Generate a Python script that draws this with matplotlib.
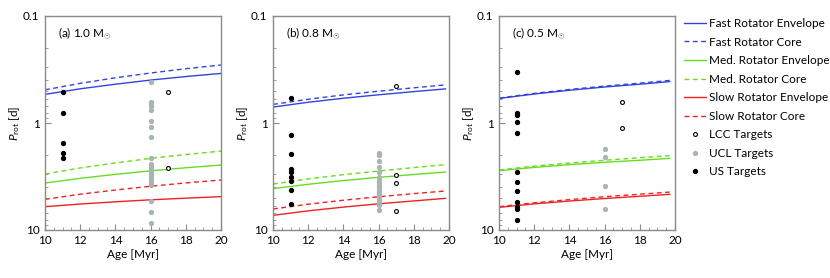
import matplotlib
matplotlib.use("Agg")
import matplotlib.pyplot as plt
from matplotlib.ticker import FixedLocator, NullFormatter, MultipleLocator
from matplotlib.lines import Line2D

plt.rcParams['font.family'] = ['Lato', 'DejaVu Sans']
plt.rcParams['mathtext.fontset'] = 'custom'
plt.rcParams['mathtext.rm'] = 'Lato'
plt.rcParams['mathtext.it'] = 'Lato:italic'

# ---------------- data ----------------
panel_labels = ["(a) 1.0 M$_{\\odot}$", "(b) 0.8 M$_{\\odot}$", "(c) 0.5 M$_{\\odot}$"]

# model curves: ages and periods [d]
ages_a = [10, 12, 14, 16, 18, 20]
ages_b = [10, 12, 14, 16, 18, 19.8]
ages_c = [10, 12, 14, 16, 18, 19.7]

fast_env_a = [0.54, 0.479, 0.434, 0.397, 0.368, 0.344]
fast_core_a = [0.49, 0.426, 0.378, 0.341, 0.311, 0.287]
med_env_a = [3.64, 3.29, 3.02, 2.80, 2.62, 2.47]
med_core_a = [3.00, 2.63, 2.36, 2.14, 1.97, 1.83]
slow_env_a = [6.05, 5.72, 5.45, 5.22, 5.04, 4.88]
slow_core_a = [5.17, 4.63, 4.23, 3.90, 3.63, 3.41]

fast_env_b = [0.71, 0.640, 0.587, 0.545, 0.509, 0.48]
fast_core_b = [0.67, 0.600, 0.546, 0.504, 0.469, 0.44]
med_env_b = [4.11, 3.74, 3.45, 3.22, 3.03, 2.87]
med_core_b = [3.72, 3.33, 3.04, 2.81, 2.61, 2.45]
slow_env_b = [7.3, 6.62, 6.11, 5.69, 5.35, 5.06]
slow_core_b = [6.36, 5.74, 5.27, 4.89, 4.57, 4.32]

fast_env_c = [0.59, 0.536, 0.494, 0.461, 0.434, 0.41]
fast_core_c = [0.585, 0.529, 0.486, 0.452, 0.424, 0.40]
med_env_c = [2.79, 2.60, 2.45, 2.33, 2.23, 2.14]
med_core_c = [2.75, 2.53, 2.37, 2.23, 2.11, 2.02]
slow_env_c = [6.14, 5.70, 5.36, 5.08, 4.84, 4.64]
slow_core_c = [6.05, 5.57, 5.20, 4.89, 4.63, 4.42]

# targets
us_age, ucl_age, lcc_age = 11, 16, 17

us_a = [0.51, 0.81, 1.55, 1.89, 2.12]
ucl_a = [0.41, 0.64, 0.67, 0.70, 0.76, 0.96, 1.08, 1.36, 2.14, 2.43, 2.56, 2.71,
         2.85, 3.0, 3.15, 3.31, 3.46, 3.61, 3.8, 5.36, 6.74, 8.6]
lcc_a = [0.51, 2.61]

us_b = [0.58, 1.29, 1.96, 2.69, 2.85, 3.20, 3.48, 4.26, 5.75]
ucl_b = [1.92, 2.0, 2.25, 2.58, 2.85, 3.17, 3.41, 3.64, 3.86, 4.08, 4.32, 4.58,
         4.84, 5.13, 5.44, 5.84, 6.55]
lcc_b = [0.45, 3.06, 3.66, 6.6]

us_c = [0.331, 0.81, 0.85, 0.98, 1.25, 2.87, 3.56, 4.35, 5.43, 6.05, 6.36, 8.07]
ucl_c = [1.75, 2.09, 3.88, 6.36]
lcc_c = [0.63, 1.11]

panels = [
    (ages_a, [fast_env_a, fast_core_a, med_env_a, med_core_a, slow_env_a, slow_core_a], us_a, ucl_a, lcc_a),
    (ages_b, [fast_env_b, fast_core_b, med_env_b, med_core_b, slow_env_b, slow_core_b], us_b, ucl_b, lcc_b),
    (ages_c, [fast_env_c, fast_core_c, med_env_c, med_core_c, slow_env_c, slow_core_c], us_c, ucl_c, lcc_c),
]

curve_names = ["Fast Rotator Envelope", "Fast Rotator Core", "Med. Rotator Envelope",
               "Med. Rotator Core", "Slow Rotator Envelope", "Slow Rotator Core"]
blue, green, red = "#3344dd", "#66dd22", "#ee2222"
curve_colors = [blue, blue, green, green, red, red]
curve_styles = ["-", (0, (3.5, 2.5)), "-", (0, (3.5, 2.5)), "-", (0, (3.5, 2.5))]
ucl_color = "#a9b4b4"
spine_color = "#8a8a8a"
ms = 2.8

fig = plt.figure(figsize=(8.3, 2.78), dpi=100)
lefts = [45 / 830, 273 / 830, 499 / 830]
width = 176 / 830
bottom = 48 / 278
height = 214 / 278

fs = 8.5
for i, (ages, curves, us, ucl, lcc) in enumerate(panels):
    ax = fig.add_axes([lefts[i], bottom, width, height])
    for vals, col, ls in zip(curves, curve_colors, curve_styles):
        ax.plot(ages, vals, color=col, ls=ls, lw=1.0)
    ax.plot([lcc_age] * len(lcc), lcc, 'o', mfc='white', mec='black', mew=0.8, ms=ms, ls='none')
    ax.plot([ucl_age] * len(ucl), ucl, 'o', color=ucl_color, ms=ms, ls='none')
    ax.plot([us_age] * len(us), us, 'o', color='black', ms=ms, ls='none')
    ax.set_yscale('log')
    ax.set_ylim(10, 0.1)
    ax.set_xlim(10, 20)
    ax.yaxis.set_major_locator(FixedLocator([0.1, 1, 10]))
    ax.set_yticklabels(["0.1", "1", "10"])
    ax.yaxis.set_minor_locator(FixedLocator([k * 0.1 for k in range(2, 10)] + list(range(2, 10))))
    ax.yaxis.set_minor_formatter(NullFormatter())
    ax.xaxis.set_major_locator(MultipleLocator(2))
    ax.xaxis.set_minor_locator(MultipleLocator(0.5))
    ax.tick_params(which='both', direction='in', color=spine_color, labelsize=fs)
    ax.tick_params(which='major', length=4, width=0.8)
    ax.tick_params(which='minor', length=2, width=0.6)
    ax.tick_params(axis='y', pad=4)
    for s in ax.spines.values():
        s.set_color(spine_color)
        s.set_linewidth(1.0)
    ax.set_xlabel("Age [Myr]", fontsize=fs, labelpad=2)
    ax.set_ylabel("$P_{\\rm rot}$ [d]", fontsize=fs, labelpad=1)
    ax.text(0.075, 0.915, panel_labels[i], transform=ax.transAxes, fontsize=fs,
            ha='left', va='center')
    if i == 2:
        handles = [Line2D([], [], color=c, ls=l, lw=1.0) for c, l in zip(curve_colors, curve_styles)]
        handles += [
            Line2D([], [], marker='o', mfc='white', mec='black', mew=0.8, ms=ms, ls='none'),
            Line2D([], [], marker='o', color=ucl_color, ms=ms, ls='none'),
            Line2D([], [], marker='o', color='black', ms=ms, ls='none'),
        ]
        labels = curve_names + ["LCC Targets", "UCL Targets", "US Targets"]
        fig.legend(handles, labels, loc='upper left', bbox_to_anchor=(684 / 830, 1 - 18 / 278),
                   frameon=False, fontsize=fs, handlelength=1.9, handletextpad=0.2,
                   labelspacing=0.64, borderaxespad=0, borderpad=0)

fig.savefig("out.png", dpi=100)
